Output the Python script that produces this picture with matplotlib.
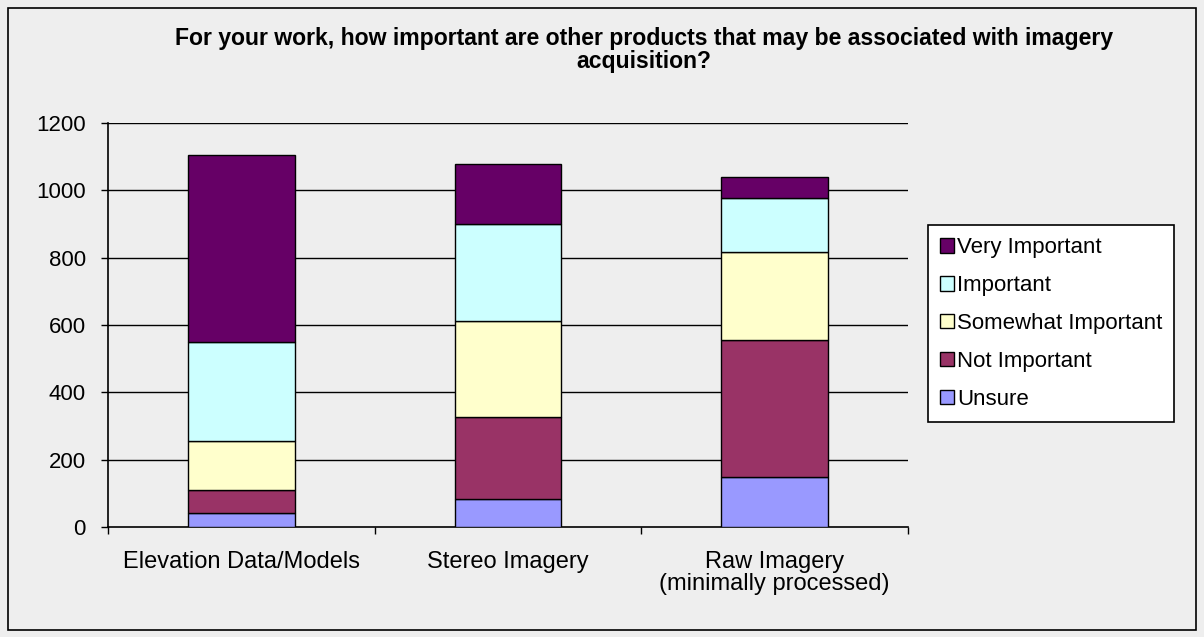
import matplotlib.pyplot as plt
import matplotlib.patches as mpatches
import numpy as np

# ====== data ======
categories = ["Elevation Data/Models", "Stereo Imagery", "Raw Imagery\n(minimally processed)"]
series_names = ["Unsure", "Not Important", "Somewhat Important", "Important", "Very Important"]
unsure = [43, 82, 150]
not_important = [68, 246, 405]
somewhat_important = [143, 283, 261]
important = [295, 289, 161]
very_important = [557, 178, 63]
yticks = [0, 200, 400, 600, 800, 1000, 1200]

colors = ["#9999FF", "#993366", "#FFFFCC", "#CCFFFF", "#660066"]
bg = "#EEEEEE"

plt.rcParams["font.family"] = ["Liberation Sans", "DejaVu Sans"]

W, H = 1204, 637
fig = plt.figure(figsize=(W / 100, H / 100), dpi=100)
fig.patch.set_facecolor(bg)

# outer border
fig.patches.append(mpatches.Rectangle((8 / W, 1 - 630 / H), (1196 - 8) / W, (630 - 8) / H,
                                      transform=fig.transFigure, fill=False,
                                      edgecolor="black", linewidth=1.2))

ax = fig.add_axes([108 / W, 1 - 527 / H, (908 - 108) / W, (527 - 123) / H])
ax.set_facecolor(bg)

x = np.arange(len(categories))
bottom = np.zeros(len(categories))
handles = []
for name, vals, c in zip(series_names,
                         [unsure, not_important, somewhat_important, important, very_important],
                         colors):
    b = ax.bar(x, vals, width=0.4, bottom=bottom, color=c, edgecolor="black",
               linewidth=1, label=name, zorder=3)
    handles.append(b)
    bottom += np.array(vals)

ax.set_xlim(-0.5, 2.5)
ax.set_ylim(0, 1200)
ax.set_yticks(yticks)
ax.set_yticklabels([str(v) for v in yticks], fontsize=16)
for v in yticks[1:]:
    ax.axhline(v, color="black", linewidth=1, zorder=1)

ax.set_xticks([-0.5, 0.5, 1.5, 2.5])
ax.set_xticklabels([])
ax.set_xticks(x, minor=True)
ax.set_xticklabels(categories, minor=True, fontsize=17, linespacing=1.0)
ax.tick_params(axis="x", which="minor", length=0, pad=17)
ax.tick_params(axis="x", which="major", length=5, width=1, direction="out")
ax.tick_params(axis="y", length=5, width=1, direction="out", pad=11)

for s in ["top", "right"]:
    ax.spines[s].set_visible(False)
ax.spines["left"].set_linewidth(1.2)
ax.spines["bottom"].set_linewidth(1.2)

fig.text(644 / W, 1 - 27 / H,
         "For your work, how important are other products that may be associated with imagery\nacquisition?",
         ha="center", va="top", fontsize=16.6, fontweight="bold", linespacing=1.0)

leg = ax.legend(handles[::-1], series_names[::-1], loc="upper left",
                bbox_to_anchor=(928 / W, 1 - 225 / H), bbox_transform=fig.transFigure,
                fontsize=16, frameon=True, fancybox=False, framealpha=1,
                handlelength=0.63, handleheight=0.63, handletextpad=0.12,
                labelspacing=0.76, borderpad=0.55, borderaxespad=0)
leg.get_frame().set_edgecolor("black")
leg.get_frame().set_linewidth(1.2)

fig.savefig("out.png", dpi=100, facecolor=bg)
